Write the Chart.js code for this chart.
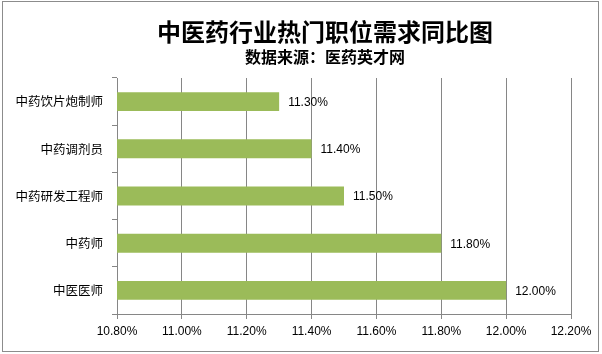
<!DOCTYPE html>
<html>
<head>
<meta charset="utf-8">
<script src="https://cdn.jsdelivr.net/npm/chart.js@4/dist/chart.umd.min.js"></script>
<style>
  body { margin: 0; background: #fff; }
  canvas { display: block; }
</style>
</head>
<body>
<canvas id="chart" width="602" height="354"></canvas>
<script>
// Data
const titleText = '中医药行业热门职位需求同比图';
const subtitleText = '数据来源：医药英才网';
const categories = ['中药饮片炮制师', '中药调剂员', '中药研发工程师', '中药师', '中医医师'];
const values = [11.3, 11.4, 11.5, 11.8, 12.0];
const axisMin = 10.8;
const axisMax = 12.2;
const axisStep = 0.2;

const gray = '#868686';
const barColor = '#9BBB59';

// Title, subtitle, outer frame and value labels
const decorPlugin = {
    id: 'decor',
    afterDraw(chart) {
        const ctx = chart.ctx;
        ctx.save();
        ctx.strokeStyle = '#8c8c8c';
        ctx.lineWidth = 1;
        ctx.strokeRect(2.5, 1.5, 596, 350);

        ctx.fillStyle = '#000';
        ctx.textAlign = 'center';
        ctx.textBaseline = 'middle';
        ctx.font = 'bold 24px "Noto Sans CJK SC"';
        ctx.fillText(titleText, 325, 32);
        ctx.font = 'bold 16px "Noto Sans CJK SC"';
        ctx.fillText(subtitleText, 325, 57);

        ctx.font = '12px "Liberation Sans"';
        ctx.textAlign = 'left';
        const meta = chart.getDatasetMeta(0);
        meta.data.forEach((bar, i) => {
            ctx.fillText(values[i].toFixed(2) + '%', bar.x + 9, bar.y + 1);
        });
        ctx.restore();
    }
};

new Chart(document.getElementById('chart'), {
    type: 'bar',
    data: {
        labels: categories,
        datasets: [{
            data: values,
            backgroundColor: barColor,
            borderWidth: 0,
            barPercentage: 0.8,
            categoryPercentage: 0.5
        }]
    },
    options: {
        indexAxis: 'y',
        responsive: false,
        animation: false,
        layout: { padding: { top: 78, right: 31, left: 0, bottom: 0 } },
        plugins: {
            legend: { display: false },
            tooltip: { enabled: false }
        },
        scales: {
            x: {
                min: axisMin,
                max: axisMax,
                afterFit: (scale) => { scale.height = 40; },
                ticks: {
                    stepSize: axisStep,
                    padding: 5,
                    color: '#000',
                    font: { family: 'Liberation Sans', size: 12 },
                    callback: (v) => Number(v).toFixed(2) + '%'
                },
                grid: { color: gray, tickLength: 5 },
                border: { color: gray }
            },
            y: {
                afterFit: (scale) => { scale.width = 117; },
                ticks: {
                    padding: 9,
                    color: '#000',
                    font: { family: 'Noto Sans CJK SC', size: 12.5 }
                },
                grid: { drawOnChartArea: false, color: gray, tickLength: 5, offset: true },
                border: { color: gray }
            }
        }
    },
    plugins: [decorPlugin]
});
</script>
</body>
</html>
